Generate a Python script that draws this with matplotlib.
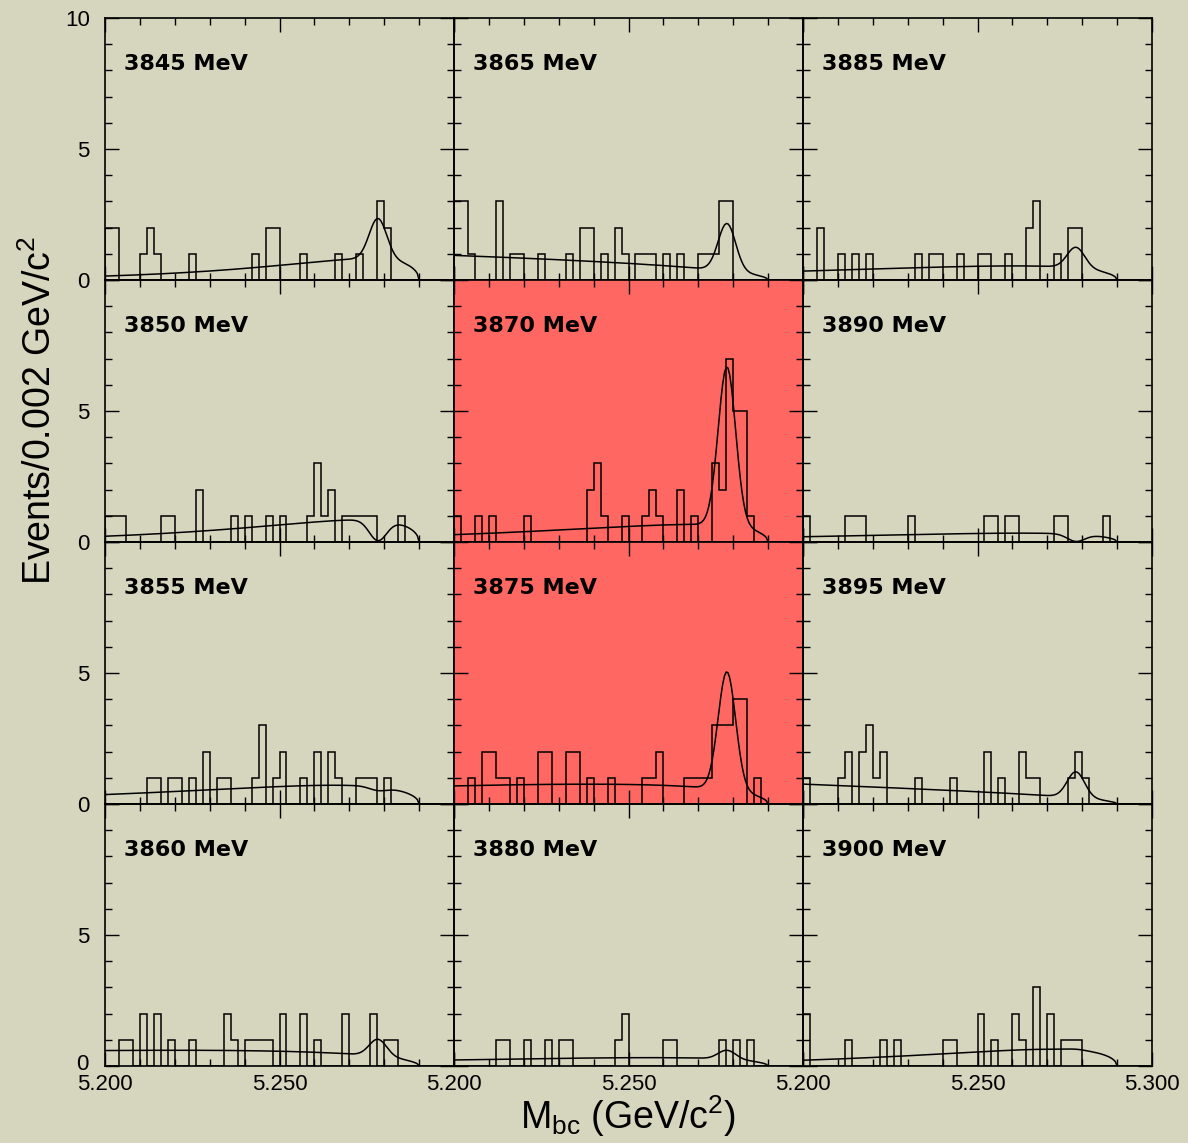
import numpy as np
import matplotlib
matplotlib.use("Agg")
import matplotlib.pyplot as plt
import matplotlib.transforms as mtransforms
from matplotlib.ticker import FixedLocator, MultipleLocator, FixedFormatter

plt.rcParams['font.family'] = ['Liberation Sans', 'DejaVu Sans']
plt.rcParams['mathtext.fontset'] = 'custom'
plt.rcParams['mathtext.rm'] = 'Liberation Sans'
plt.rcParams['mathtext.it'] = 'Liberation Sans:italic'

# ---- data -------------------------------------------------------------
bin_edges_lo, bin_edges_hi, n_bins = 5.200, 5.300, 50

# mass hypotheses, column-major (4 per column)
masses = [3845, 3850, 3855, 3860,
          3865, 3870, 3875, 3880,
          3885, 3890, 3895, 3900]

highlighted = [3870, 3875]

def counts(filled):
    c = [0] * n_bins
    for k, v in filled.items():
        c[k] = v
    return c

h3845 = counts({0: 2, 1: 2, 5: 1, 6: 2, 7: 1, 12: 1, 21: 1, 23: 2, 24: 2, 28: 1,
                33: 1, 36: 1, 39: 3, 40: 2})
h3850 = counts({0: 1, 1: 1, 2: 1, 8: 1, 9: 1, 13: 2, 18: 1, 20: 1, 23: 1, 25: 1,
                29: 1, 30: 3, 31: 1, 32: 2, 34: 1, 35: 1, 36: 1, 37: 1, 38: 1, 42: 1})
h3855 = counts({6: 1, 7: 1, 9: 1, 10: 1, 12: 1, 14: 2, 16: 1, 17: 1, 21: 1, 22: 3,
                24: 1, 25: 2, 28: 1, 30: 2, 32: 2, 33: 1, 36: 1, 37: 1, 38: 1, 40: 1})
h3860 = counts({2: 1, 3: 1, 5: 2, 7: 2, 9: 1, 12: 1, 17: 2, 18: 1, 20: 1, 21: 1,
                22: 1, 23: 1, 25: 2, 28: 2, 30: 1, 34: 2, 38: 2, 40: 1, 41: 1})
h3865 = counts({0: 3, 1: 3, 2: 1, 6: 3, 8: 1, 9: 1, 12: 1, 16: 1, 18: 2, 19: 2,
                21: 1, 23: 2, 24: 1, 26: 1, 27: 1, 28: 1, 30: 1, 32: 1, 35: 1,
                36: 1, 37: 1, 38: 3, 39: 3})
h3870 = counts({0: 1, 3: 1, 5: 1, 10: 1, 19: 2, 20: 3, 21: 1, 24: 1, 27: 1, 28: 2,
                29: 1, 32: 2, 34: 1, 37: 3, 38: 2, 39: 7, 40: 5, 41: 5, 42: 1})
h3875 = counts({2: 1, 4: 2, 5: 2, 6: 1, 7: 1, 9: 1, 12: 2, 13: 2, 16: 2, 17: 2,
                19: 1, 22: 1, 27: 1, 28: 1, 29: 2, 33: 1, 34: 1, 35: 1, 36: 1,
                37: 3, 38: 3, 39: 3, 40: 4, 41: 4, 43: 1})
h3880 = counts({6: 1, 7: 1, 10: 1, 13: 1, 15: 1, 16: 1, 23: 1, 24: 2, 30: 1, 31: 1,
                38: 1, 40: 1, 42: 1})
h3885 = counts({2: 2, 5: 1, 7: 1, 9: 1, 16: 1, 18: 1, 19: 1, 22: 1, 25: 1, 26: 1,
                29: 1, 32: 2, 33: 3, 36: 1, 38: 2, 39: 2})
h3890 = counts({0: 1, 6: 1, 7: 1, 8: 1, 15: 1, 26: 1, 27: 1, 29: 1, 30: 1, 36: 1,
                37: 1, 43: 1})
h3895 = counts({0: 1, 5: 1, 6: 2, 8: 2, 9: 3, 10: 1, 11: 2, 16: 1, 21: 1, 26: 2,
                28: 1, 31: 2, 32: 1, 33: 1, 38: 1, 39: 2, 40: 1})
h3900 = counts({0: 2, 6: 1, 11: 1, 13: 1, 20: 1, 21: 1, 25: 2, 27: 1, 30: 2, 31: 1,
                33: 3, 35: 2, 37: 1, 38: 1, 39: 1})

hists = [h3845, h3850, h3855, h3860, h3865, h3870,
         h3875, h3880, h3885, h3890, h3895, h3900]

# fit curves: ARGUS background + Gaussian signal
# background level at 5.200 and 5.270, total curve value at the signal mean
bkg_at_5200 = [0.15, 0.22, 0.36, 0.59, 0.94, 0.28, 0.69, 0.23, 0.34, 0.20, 0.76, 0.22]
bkg_at_5270 = [0.79, 0.84, 0.71, 0.46, 0.45, 0.67, 0.64, 0.30, 0.52, 0.33, 0.32, 0.64]
fit_at_peak = [2.35, 0.05, 0.51, 1.02, 2.16, 6.69, 5.05, 0.60, 1.25, 0.02, 1.23, 0.64]
sig_mean, sig_width, endpoint = 5.2782, 0.0025, 5.290

# ---- helpers ----------------------------------------------------------
def argus_shape(m, c):
    x = np.clip(1.0 - (m / endpoint) ** 2, 0.0, None)
    return m * np.sqrt(x) * np.exp(c * x)

def fit_curve(m, b0, b1, peak):
    x0 = 1.0 - (5.200 / endpoint) ** 2
    x1 = 1.0 - (5.270 / endpoint) ** 2
    base_ratio = (5.270 * np.sqrt(x1)) / (5.200 * np.sqrt(x0))
    c = np.log((b1 / b0) / base_ratio) / (x1 - x0)
    norm = b1 / argus_shape(np.array(5.270), c)
    bkg = norm * argus_shape(m, c)
    amp = peak - norm * argus_shape(np.array(sig_mean), c)
    return bkg + amp * np.exp(-0.5 * ((m - sig_mean) / sig_width) ** 2)

# ---- figure -----------------------------------------------------------
W, H = 1188, 1143
fig = plt.figure(figsize=(W / 100, H / 100), dpi=100)
paper = '#d6d5be'
fig.patch.set_facecolor(paper)

left_px, top_px, col_w, row_h = 105, 18, 349, 262
edges = np.linspace(bin_edges_lo, bin_edges_hi, n_bins + 1)
mgrid = np.linspace(5.200, endpoint, 181)

for idx, mass in enumerate(masses):
    col, row = divmod(idx, 4)
    x0 = (left_px + col * col_w) / W
    y0 = 1 - (top_px + (row + 1) * row_h) / H
    ax = fig.add_axes([x0, y0, col_w / W, row_h / H])
    ax.set_facecolor('#ff6762' if mass in highlighted else 'none')
    ax.set_xlim(5.200, 5.300)
    ax.set_ylim(0, 10)

    ax.stairs(hists[idx], edges, color='black', lw=1.1, baseline=0)
    ax.plot(mgrid, fit_curve(mgrid, bkg_at_5200[idx], bkg_at_5270[idx],
                             fit_at_peak[idx]), color='black', lw=1.1)

    ax.text(0.055, 0.825, f'{mass} MeV', transform=ax.transAxes,
            fontsize=16, fontweight='bold', family='DejaVu Sans',
            ha='left', va='center')

    ax.xaxis.set_major_locator(FixedLocator([5.20, 5.25, 5.30]))
    ax.xaxis.set_minor_locator(MultipleLocator(0.01))
    ax.yaxis.set_major_locator(FixedLocator([0, 5, 10]))
    ax.yaxis.set_minor_locator(MultipleLocator(1))
    ax.tick_params(which='both', direction='in', top=True, right=True,
                   width=1.0, colors='black', labelsize=16)
    ax.tick_params(which='major', length=10)
    ax.tick_params(which='minor', length=5)
    ax.tick_params(axis='x', pad=6)
    ax.tick_params(axis='y', pad=11)
    for s in ax.spines.values():
        s.set_linewidth(1.2)

    if row == 3:
        xl = ['5.200', '5.250', '5.300' if col == 2 else '']
        ax.xaxis.set_major_formatter(FixedFormatter(xl))
    else:
        ax.tick_params(axis='x', labelbottom=False)
    if col == 0:
        yl = ['0', '5', '10' if row == 0 else '']
        ax.yaxis.set_major_formatter(FixedFormatter(yl))
        if row == 3:
            # nudge the lowest "0" up a little, away from the x tick label
            lift = mtransforms.ScaledTranslation(-1 / 72, 3 / 72,
                                                 fig.dpi_scale_trans)
            lbl = ax.yaxis.get_major_ticks()[0].label1
            lbl.set_transform(lbl.get_transform() + lift)
    else:
        ax.tick_params(axis='y', labelleft=False)

fig.text(40 / W, 1 - 410 / H, r'Events/0.002 GeV/c$^2$', rotation=90,
         fontsize=27, ha='center', va='center')
fig.text(628 / W, 1 - 1116 / H, r'M$_{\rm bc}$ (GeV/c$^2$)',
         fontsize=27, ha='center', va='center')

fig.savefig('out.png', dpi=100, facecolor=paper)
